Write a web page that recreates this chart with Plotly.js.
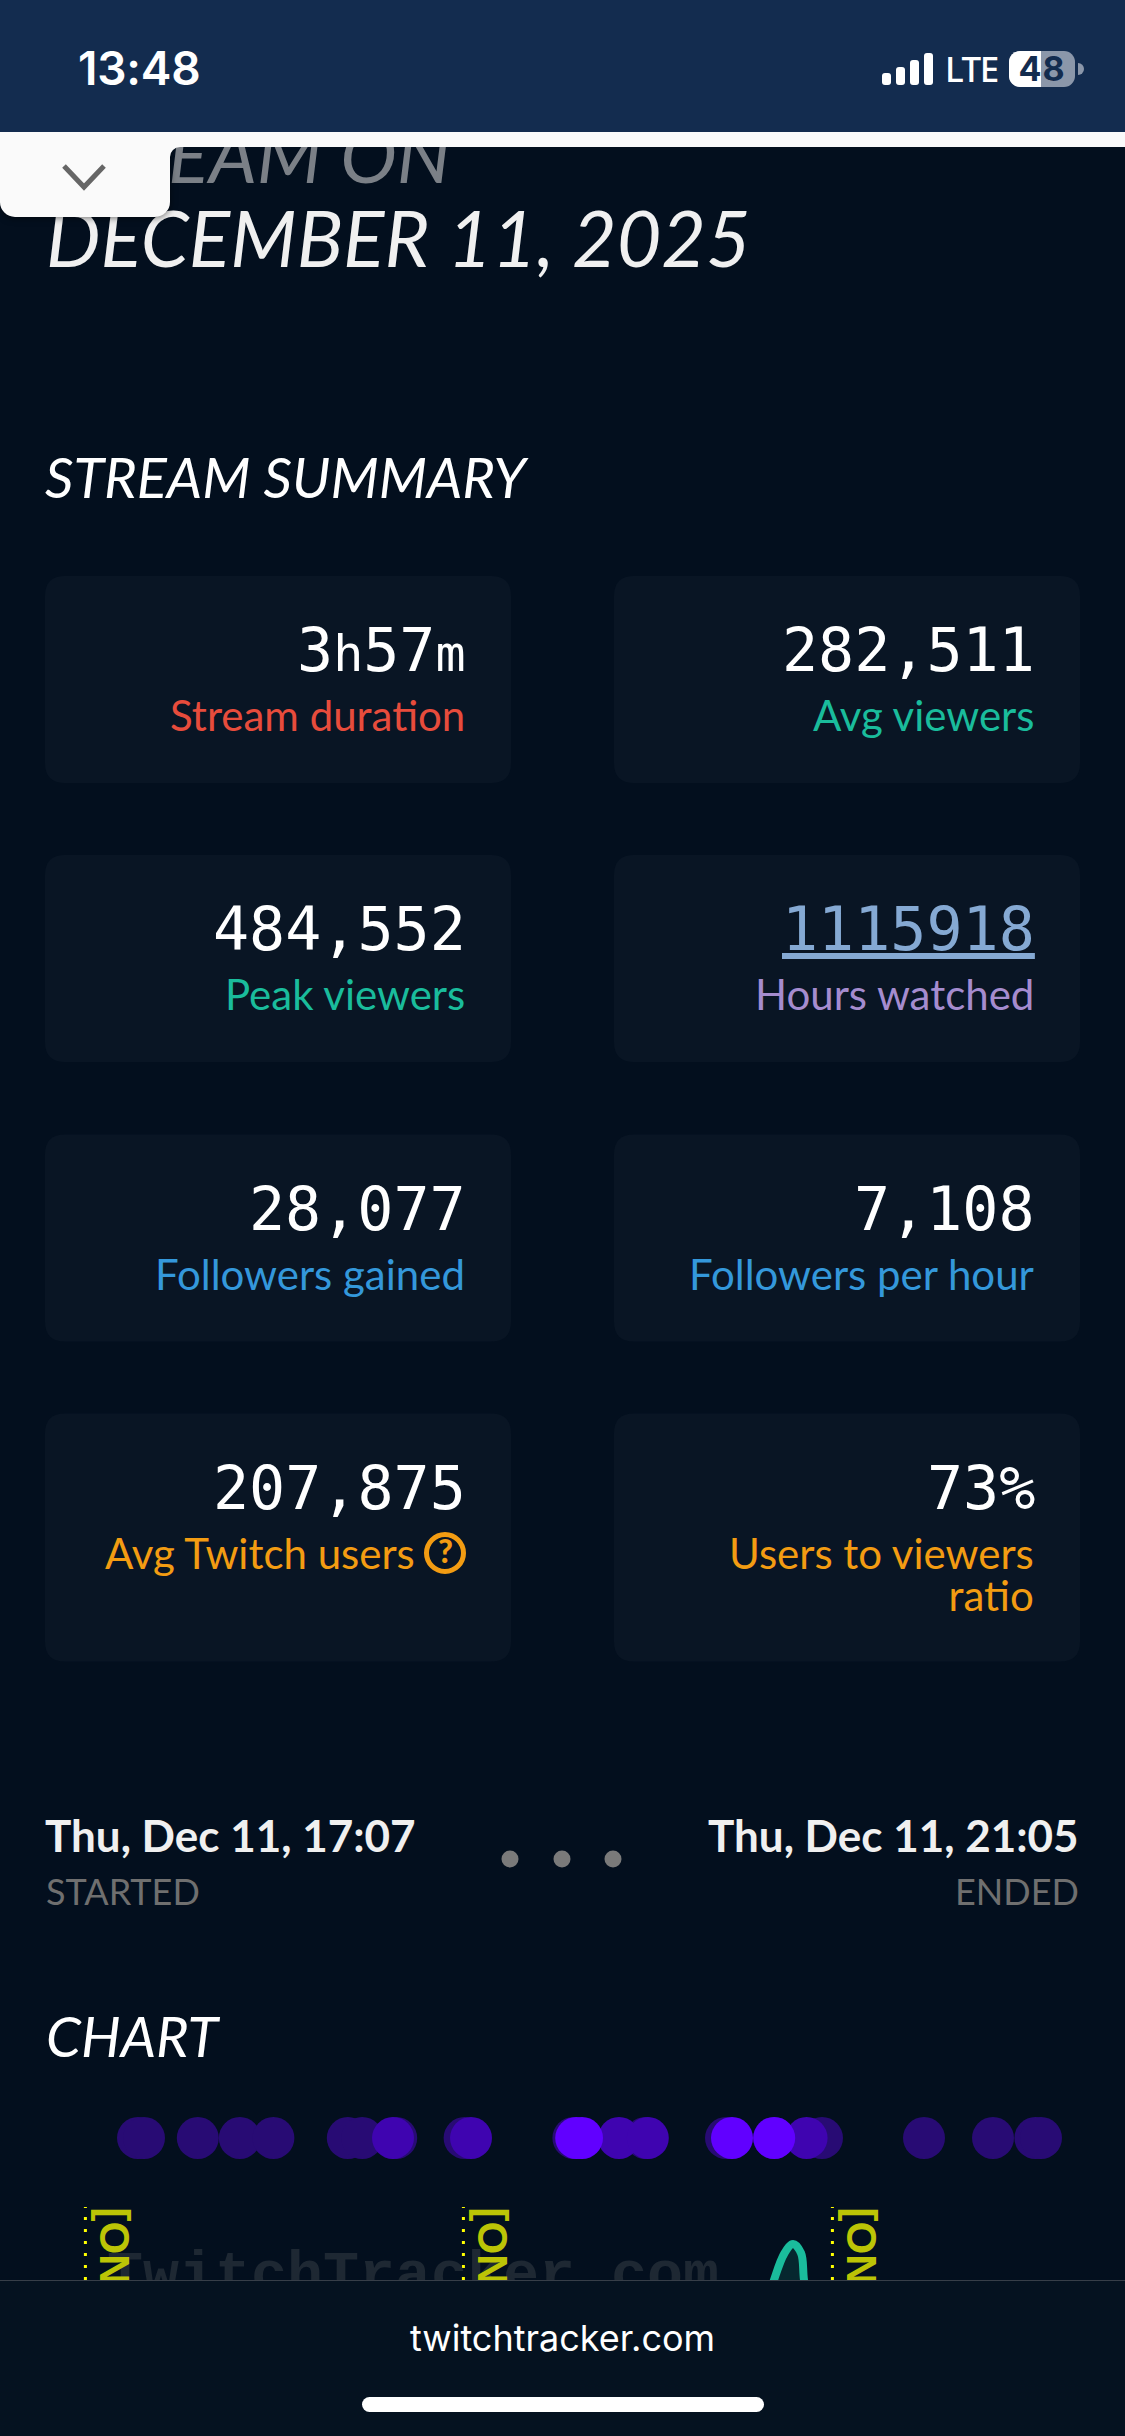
<!DOCTYPE html>
<html><head><meta charset="utf-8">
<script src="https://cdn.plot.ly/plotly-3.0.1.min.js"></script>
<style>
html,body{margin:0;padding:0;background:#030f1e;width:1125px;height:2436px;overflow:hidden}
#plot{position:absolute;left:0;top:0;width:1125px;height:2436px}
.ov{position:absolute;z-index:10}
#top{left:0;top:0;width:1125px;height:230px;pointer-events:none}
#foot{left:0;top:2280px;width:1125px;height:156px;background:#051220;border-top:1.5px solid #373e48;box-sizing:border-box}
#clock{left:78px;top:40px;font:600 46px/56px Inter,sans-serif;color:#fff;letter-spacing:-0.2px}
#lte{left:945px;top:47px;font:500 35px/44px "Noto Sans",sans-serif;color:#fff;letter-spacing:-1.5px}
#bat{left:1009px;top:51px;width:66px;height:36px;font:700 34px/36px Inter,sans-serif;color:#132c4f;text-align:center;letter-spacing:1px}
#site{left:0;top:32px;width:1125px;text-align:center;font:400 36px/50px Inter,sans-serif;color:#fff}
#home{left:362px;top:116px;width:402px;height:15px;background:#fff;border-radius:8px}
#tab{left:0;top:132px;width:170px;height:85px;background:#fafafa;border-radius:0 0 15px 15px;box-shadow:0 1px 7px rgba(0,0,0,.55)}
#strip{left:0;top:132px;width:1125px;height:15px;background:#fafafa}
#bar{left:0;top:0;width:1125px;height:132px;background:#132c4f}
</style></head><body>
<div id="plot"></div>
<div class="ov" id="tab"></div>
<div class="ov" id="strip"></div>
<div class="ov" id="bar"></div>
<div class="ov" id="clock">13:48</div>
<div class="ov" id="lte">LTE</div>
<svg class="ov" id="top" viewBox="0 0 1125 230">
  <path d="M170,147h10a10,10 0 0 0 -10,10z" fill="#fafafa"/>
  <path d="M64,166L84,187L104,166" fill="none" stroke="#666" stroke-width="5"/>
  <g fill="#fff">
    <rect x="882" y="73" width="9" height="12" rx="3"/><rect x="896" y="67" width="9" height="18" rx="3"/>
    <rect x="910" y="60" width="9" height="25" rx="3"/><rect x="924" y="53" width="9" height="32" rx="3"/>
  </g>
  <rect x="1009" y="51" width="66" height="36" rx="11" fill="#8b97aa"/>
  <path d="M1041,51h-21a11,11 0 0 0 -11,11v14a11,11 0 0 0 11,11h21z" fill="#fff"/>
  <path d="M1078,63a6,6 0 0 1 0,12z" fill="#8b97aa"/>
</svg>
<div class="ov" id="bat">48</div>
<div class="ov" id="foot"><div class="ov" id="site">twitchtracker.com</div><div class="ov" id="home"></div></div>
<script>
// ---- page text ----
const cardValues = ["3h57m", "282,511", "484,552", "1115918", "28,077", "7,108", "207,875", "73%"];
const cardLabels = ["Stream duration", "Avg viewers", "Peak viewers", "Hours watched", "Followers gained", "Followers per hour", "Avg Twitch users", "Users to viewers|ratio"];
const cardColors = ["#e74c3c", "#1abc9c", "#1abc9c", "#a58ccf", "#3498db", "#3498db", "#f39c12", "#f39c12"];
const cardRowTops = [576, 855, 1134.5, 1413.5];
const cardRowHeights = [207, 207, 207, 248];
const startedText = "Thu, Dec 11, 17:07";
const endedText = "Thu, Dec 11, 21:05";

// ---- chart data (minutes since stream start) ----
const heatLowMinutes = [13.25, 14.75, 28.2, 38.7, 47.1, 65.7, 69.3, 77.8, 94.9, 122.1, 140.1, 160.25, 172.25, 184.25, 209.75, 227, 237.6, 239];
const heatMidMinutes = [77, 96.5, 133.5, 140.7, 180.4];
const heatHighMinutes = [122.8, 124.25, 161.75, 172.3];
const onMinutes = [0.1, 94.6, 186.85];
const viewerMinutes = [163, 168.75, 172.25, 174.9, 177, 179, 179.75, 181.75, 187];
const viewerValues = [60000, 267000, 393700, 461900, 484552, 461900, 393700, 267000, 60000];

// ---- helpers ----
const DESC = {Lato: 0.213, "DejaVu Sans Mono": 0.236, "Liberation Sans": 0.212};
const ann = [];
function txt(x, base, text, size, color, family, anchor, extra) {
  const font = Object.assign({family: family, size: size, color: color}, (extra || {}));
  ann.push({xref:"x", yref:"y", x:x, y: base + (DESC[family]||0.2)*size, text:text, showarrow:false,
    xanchor:anchor||"left", yanchor:"bottom", align:anchor||"left", borderpad:0, font:font});
}
function rr(x0,y0,x1,y1,r){
  return `M${x0+r},${y0}H${x1-r}Q${x1},${y0} ${x1},${y0+r}V${y1-r}Q${x1},${y1} ${x1-r},${y1}H${x0+r}Q${x0},${y1} ${x0},${y1-r}V${y0+r}Q${x0},${y0} ${x0+r},${y0}Z`;
}
const shapes = [];

// headings
txt(452, 183.5, "EAM ON", 76, "#7b8087", "Lato", "right", {style:"italic"});
txt(44.5, 267.5, "DECEMBER 11, 2025", 77, "#f0f0f0", "Lato", "left", {style:"italic"});
txt(44, 499.5, "STREAM SUMMARY", 56, "#ffffff", "Lato", "left", {style:"italic"});
txt(45, 2058, "CHART", 56, "#ffffff", "Lato", "left", {style:"italic"});

// cards
const LABEL = 42, LEAD = 42;
cardValues.forEach((v,i)=>{
  const col = i%2, row = Math.floor(i/2);
  const x0 = col ? 614 : 45, x1 = x0+466, y0 = cardRowTops[row], y1 = y0+cardRowHeights[row];
  shapes.push({type:"path", xref:"x", yref:"y", layer:"below", path:rr(x0,y0,x1,y1,20), fillcolor:"#091524", line:{width:0}});
  const right = x1-46;
  const isLink = /^\d+$/.test(v);
  const html = isLink ? "<u>"+v+"</u>" : v.replace(/[hm]/g, s=>`<span style="font-size:50px">${s}</span>`).replace(/%/, `<span style="font-size:60px">%</span>`);
  txt(right+1.5, y0+96, html, 60, isLink ? "#85a9d3" : "#ffffff", "DejaVu Sans Mono", "right");
  const lines = cardLabels[i].split("|");
  const rgt = (i===6) ? right-49 : right+0.5;
  const lastBase = y0+156.5+(lines.length-1)*LEAD;
  if (lines.length === 1) {
    txt(rgt, lastBase, lines[0], LABEL, cardColors[i], "Lato", "right");
  } else {
    // the outer size sets the line pitch (1.3em), the inner span the glyph size
    const outer = LEAD/1.3;
    txt(rgt, lastBase + 0.213*(LABEL-outer), lines.map(l=>`<span style="font-size:${LABEL}px">${l}</span>`).join("<br>"), outer, cardColors[i], "Lato", "right");
  }
});
// question icon
shapes.push({type:"circle", xref:"x", yref:"y", x0:426.5, x1:463.5, y0:1534.5, y1:1571.5, line:{color:"#f39c12", width:5}, fillcolor:"rgba(0,0,0,0)"});
txt(445, 1564.5, "?", 32, "#f39c12", "Lato", "center", {weight:900});

// dates
txt(44, 1852.5, startedText, 44, "#f0f0f0", "Lato", "left", {weight:700});
txt(1079.5, 1852.5, endedText, 44, "#f0f0f0", "Lato", "right", {weight:700});
txt(44.5, 1906, "STARTED", 36, "#6f6f6f", "Lato", "left");
txt(1079.5, 1906, "ENDED", 36, "#6f6f6f", "Lato", "right");

// chart labels
ann.push({xref:"x", yref:"y", x:106, y:2293+0.3*60, text:"<b>TwitchTracker.com</b>", showarrow:false, xanchor:"left", yanchor:"bottom", borderpad:0,
  font:{family:"Liberation Mono", size:60, color:"#1e2833"}});
onMinutes.forEach(m=>{
  ann.push({xref:"x2", yref:"y", x:m, y:2207, xshift:5, text:"<b>[ON]</b>", textangle:90, showarrow:false, xanchor:"left", yanchor:"top", borderpad:0,
    font:{family:"Liberation Sans", size:42, color:"#bcc406"}});
});

const heat = (xs,c,name)=>({type:"scatter", mode:"markers", name:name, x:xs, y:xs.map(()=>0.5), xaxis:"x2", yaxis:"y3",
  cliponaxis:false, hoverinfo:"skip", marker:{size:42, color:c, line:{width:0}}});
const traces = [
  {type:"scatter", mode:"lines", name:"Viewers", x:viewerMinutes, y:viewerValues, xaxis:"x2", yaxis:"y2", hoverinfo:"skip",
   line:{color:"#1abc9c", width:8, shape:"spline", smoothing:1}, fill:"tozeroy", fillcolor:"rgba(26,188,156,0.14)"},
  heat(heatLowMinutes, "#280b74", "Chat low"),
  heat(heatMidMinutes, "#3f04b0", "Chat mid"),
  heat(heatHighMinutes, "#6100ff", "Chat high"),
  {type:"scatter", mode:"markers", name:"dots", x:[510,562,613], y:[1859,1859,1859], xaxis:"x", yaxis:"y", hoverinfo:"skip",
   marker:{size:17, color:"#7a7a7a"}}
];
onMinutes.forEach(m=>traces.push({type:"scatter", mode:"lines", name:"ON", x:[m,m], y:[0,578000], xaxis:"x2", yaxis:"y2", hoverinfo:"skip",
  line:{color:"#ffff00", width:3, dash:"3px,9px"}}));

const P = 2436, hide = {visible:false, fixedrange:true};
const layout = {
  width:1125, height:2436, margin:{l:0,r:0,t:0,b:0}, showlegend:false,
  paper_bgcolor:"#030f1e", plot_bgcolor:"rgba(0,0,0,0)",
  xaxis:Object.assign({range:[0,1125], domain:[0,1]},hide),
  yaxis:Object.assign({range:[2436,0], domain:[0,1]},hide),
  xaxis2:Object.assign({range:[-21.25,260], domain:[0,1], anchor:"y2"},hide),
  yaxis2:Object.assign({range:[0,578000], domain:[0,(P-2207)/P], anchor:"x2"},hide),
  yaxis3:Object.assign({range:[0,1], domain:[(P-2176)/P,(P-2100)/P], anchor:"x2"},hide),
  shapes:shapes, annotations:ann
};
Plotly.newPlot("plot", traces, layout, {staticPlot:true, displayModeBar:false});
</script>
</body></html>
